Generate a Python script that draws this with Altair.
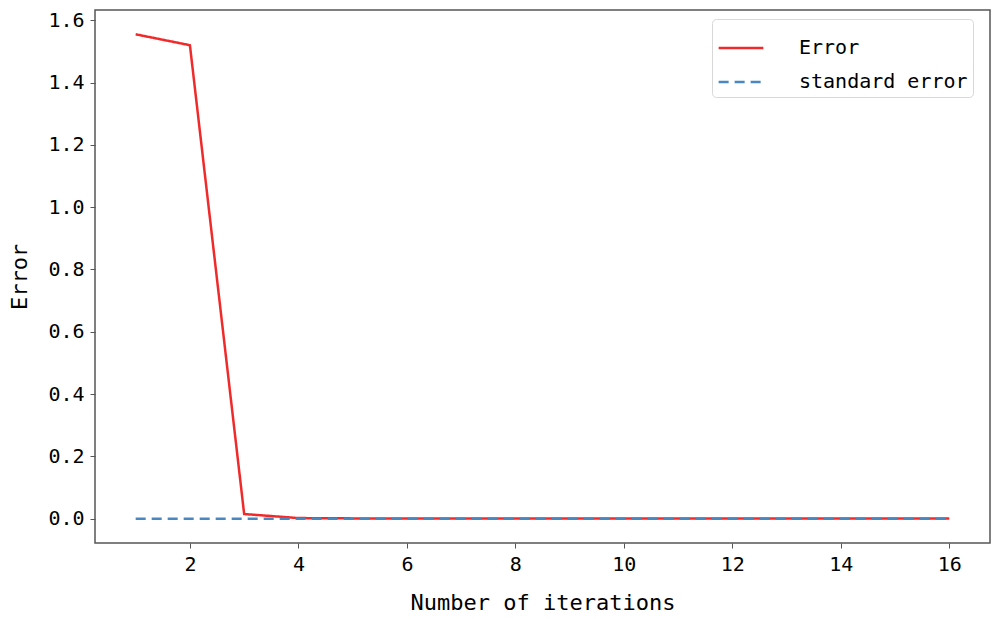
import altair as alt
import pandas as pd

iterations = list(range(1, 17))
error_vals = [1.555, 1.52, 0.015, 0.002, 0.001, 0.001, 0.001, 0.001, 0.001, 0.001, 0.001, 0.001, 0.001, 0.001, 0.001, 0.001]
standard_vals = [0.0] * 16
series_names = ["Error", "standard error"]

df = pd.DataFrame({
    "iter": iterations * 2,
    "value": error_vals + standard_vals,
    "series": [series_names[0]] * 16 + [series_names[1]] * 16,
})

FONT = "DejaVu Sans Mono"

color = alt.Color("series:N", scale=alt.Scale(domain=series_names, range=["#f02a2a", "#4a86c0"]),
                  legend=alt.Legend(title=None, orient="none", legendX=617, legendY=9,
                                    symbolType="stroke", symbolSize=2000, symbolStrokeWidth=2.5,
                                    labelFont=FONT, labelFontSize=20, labelColor="black",
                                    labelOffset=34, labelLimit=400, rowPadding=-12,
                                    strokeColor="#d8d8d8", fillColor="white", cornerRadius=4,
                                    padding=5))
dash = alt.StrokeDash("series:N", scale=alt.Scale(domain=series_names, range=[[1, 0], [10, 6]]))

x = alt.X("iter:Q", scale=alt.Scale(domain=[0.25, 16.75], nice=False, zero=False),
          axis=alt.Axis(values=list(range(2, 17, 2)), title="Number of iterations", grid=False,
                        domain=False, tickColor="#555", tickSize=5, labelFont=FONT, labelFontSize=20,
                        labelColor="black", titleFont=FONT, titleFontSize=22, titleFontWeight="normal",
                        titleColor="black", labelPadding=6, titlePadding=18))
y = alt.Y("value:Q", scale=alt.Scale(domain=[-0.078, 1.633], nice=False, zero=False),
          axis=alt.Axis(values=[0, 0.2, 0.4, 0.6, 0.8, 1.0, 1.2, 1.4, 1.6], format=".1f", title="Error",
                        grid=False, domain=False, tickColor="#555", tickSize=5, labelFont=FONT,
                        labelFontSize=20, labelColor="black", titleFont=FONT, titleFontSize=22,
                        titleFontWeight="normal", titleColor="black", labelPadding=6, titlePadding=16))

err = alt.Chart(df).transform_filter(alt.datum.series == "Error").mark_line(strokeWidth=2.5).encode(
    x=x, y=y, color=color, strokeDash=dash)
std = alt.Chart(df).transform_filter(alt.datum.series == "standard error").mark_line(strokeWidth=2.5).encode(
    x=x, y=y, color=color, strokeDash=dash)

chart = alt.layer(err, std).properties(
    width=895, height=533,
    background="white",
    autosize=alt.AutoSizeParams(type="none"),
    padding={"left": 87, "top": 2, "right": 2, "bottom": 76},
).configure_view(stroke="#555555", strokeWidth=1.5)

chart.save("out.html", embed_options={"renderer": "svg", "actions": False})
